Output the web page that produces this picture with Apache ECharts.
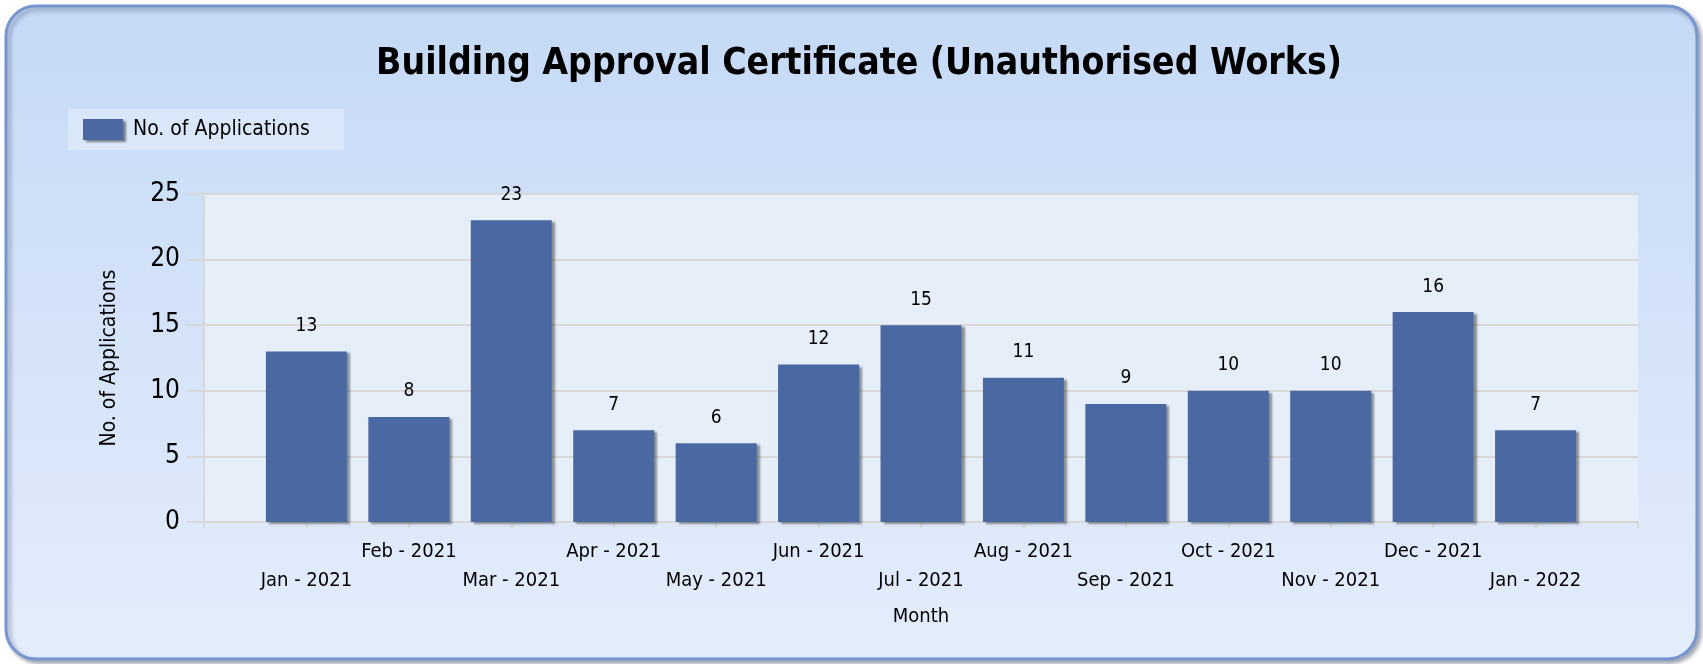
<!DOCTYPE html>
<html>
<head>
<meta charset="utf-8">
<title>Building Approval Certificate (Unauthorised Works)</title>
<script src="https://cdn.jsdelivr.net/npm/echarts@6/dist/echarts.min.js"></script>
<style>
  html, body { margin: 0; padding: 0; background: #fff; }
  #main { width: 1703px; height: 664px; }
</style>
</head>
<body>
<div id="main"></div>
<script>
// chart data
var months = ['Jan - 2021', 'Feb - 2021', 'Mar - 2021', 'Apr - 2021', 'May - 2021', 'Jun - 2021',
  'Jul - 2021', 'Aug - 2021', 'Sep - 2021', 'Oct - 2021', 'Nov - 2021', 'Dec - 2021', 'Jan - 2022']
var applications = [13, 8, 23, 7, 6, 12, 15, 11, 9, 10, 10, 16, 7]
var yTicks = [0, 5, 10, 15, 20, 25]

var font = "'DejaVu Sans Condensed', 'Noto Sans', sans-serif"
var gridColor = '#d8d8d8'

// pad one empty slot each side, the plot keeps a full band of space at both ends
var axisData = [''].concat(months, [''])
var barData = ['-'].concat(applications, ['-'])

var chart = echarts.init(document.getElementById('main'))

chart.setOption({
  textStyle: { fontFamily: font },
  graphic: [{
    type: 'rect',
    z: -10,
    shape: { x: 6, y: 6, width: 1691, height: 653, r: 30 },
    style: {
      fill: new echarts.graphic.LinearGradient(0, 0, 0, 1, [
        { offset: 0, color: '#c5d9f6' },
        { offset: 1, color: '#e4edfb' }
      ]),
      stroke: '#7696cf',
      lineWidth: 3,
      shadowColor: 'rgba(60,70,100,0.45)',
      shadowBlur: 4,
      shadowOffsetX: 3,
      shadowOffsetY: 3
    }
  }],
  title: {
    text: 'Building Approval Certificate (Unauthorised Works)',
    left: 859,
    textAlign: 'center',
    top: 46,
    padding: 0,
    textStyle: { fontFamily: font, fontSize: 37, fontWeight: 'bold', color: '#000' }
  },
  legend: {
    left: 68,
    top: 109,
    padding: [10, 34, 10, 15],
    backgroundColor: 'rgba(255,255,255,0.3)',
    icon: 'rect',
    itemWidth: 40,
    itemHeight: 21,
    itemStyle: {
      shadowColor: 'rgba(0,0,0,0.45)',
      shadowBlur: 2,
      shadowOffsetX: 3,
      shadowOffsetY: 2
    },
    textStyle: { fontFamily: font, fontSize: 21, color: '#000', padding: [0, 0, 0, 5] },
    data: ['No. of Applications']
  },
  grid: {
    left: 204,
    right: 65,
    top: 194,
    bottom: 142,
    show: true,
    backgroundColor: '#e6eefa',
    borderWidth: 0
  },
  xAxis: {
    type: 'category',
    data: axisData,
    boundaryGap: false,
    name: 'Month',
    nameLocation: 'middle',
    nameGap: 85,
    nameTextStyle: { fontFamily: font, fontSize: 20, color: '#000' },
    axisLine: { lineStyle: { color: gridColor, width: 2 } },
    axisTick: { show: true, length: 6, interval: 0, lineStyle: { color: gridColor, width: 2 } },
    axisLabel: {
      interval: 0,
      margin: 15,
      fontSize: 20,
      lineHeight: 29,
      color: '#000',
      formatter: function (value, index) {
        // alternate the labels on two rows
        return index % 2 === 1 ? '\n' + value : value
      }
    },
    splitLine: { show: false }
  },
  yAxis: {
    type: 'value',
    min: yTicks[0],
    max: yTicks[yTicks.length - 1],
    interval: 5,
    name: 'No. of Applications',
    nameLocation: 'middle',
    nameGap: 84,
    nameTextStyle: { fontFamily: font, fontSize: 21, color: '#000' },
    axisLine: { show: true, lineStyle: { color: gridColor, width: 2 } },
    axisTick: { show: true, length: 17, lineStyle: { color: gridColor, width: 2 } },
    axisLabel: { margin: 24, fontSize: 26, color: '#000' },
    splitLine: { lineStyle: { color: gridColor, width: 2 } }
  },
  series: [{
    name: 'No. of Applications',
    type: 'bar',
    data: barData,
    barWidth: 81,
    itemStyle: {
      color: '#4a68a1',
      shadowColor: 'rgba(0,0,0,0.4)',
      shadowBlur: 2,
      shadowOffsetX: 3,
      shadowOffsetY: 2
    },
    label: {
      show: true,
      position: 'top',
      distance: 16,
      fontSize: 19,
      color: '#000'
    }
  }]
})
</script>
</body>
</html>
